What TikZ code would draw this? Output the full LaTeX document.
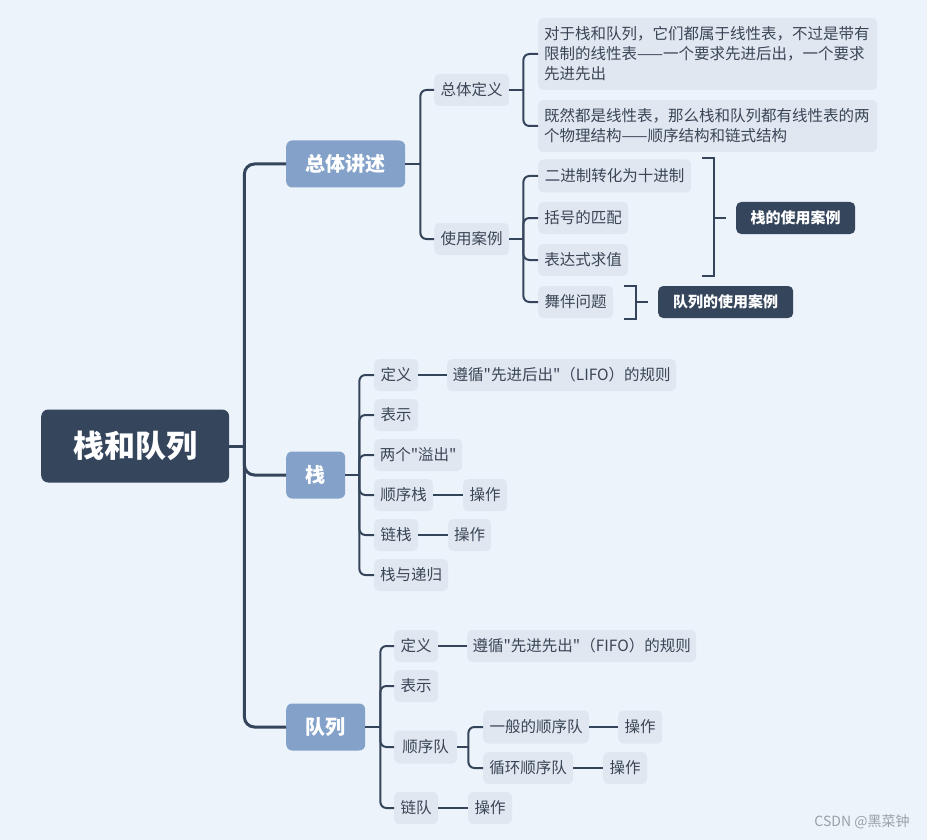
\documentclass[tikz,border=0pt]{standalone}
\usepackage{fontspec}
\setmainfont{Noto Sans CJK SC}
\newfontfamily\cjk{Noto Sans CJK SC}
\usetikzlibrary{calc}
\definecolor{bg}{HTML}{ECF3FA}
\definecolor{leafc}{HTML}{E0E7F0}
\definecolor{midc}{HTML}{84A2C9}
\definecolor{darkc}{HTML}{34455C}
\definecolor{linec}{HTML}{34445B}
\definecolor{txt}{HTML}{3A4556}
\definecolor{wmc}{HTML}{9AA0A8}
\begin{document}
\begin{tikzpicture}[x=1pt,y=-1pt,
  leaf/.style={fill=leafc, rounded corners=5pt, text=txt, font=\cjk\fontsize{15.5}{20}\selectfont, minimum height=32pt, inner sep=0pt, anchor=west},
  para/.style={leaf, align=left, text width=327pt, minimum width=339pt},
  midbox/.style={fill=midc, rounded corners=6pt, text=white, font=\cjk\fontsize{20}{20}\selectfont\bfseries, minimum height=47pt, inner sep=0pt, anchor=west},
  rootbox/.style={fill=darkc, rounded corners=7pt, text=white, font=\cjk\fontsize{31}{31}\selectfont\bfseries, minimum height=73pt, minimum width=188pt, inner sep=0pt, anchor=west},
  tagbox/.style={fill=darkc, rounded corners=5pt, text=white, font=\cjk\fontsize{15}{15}\selectfont\bfseries, minimum height=32pt, inner sep=0pt, anchor=west},
  conn/.style={draw=linec, line width=2pt, rounded corners=6pt},
  mainconn/.style={draw=linec, line width=3pt, rounded corners=10pt},
  brk/.style={draw=linec, line width=2pt}
]
\fill[bg] (0,0) rectangle (927,840);
\useasboundingbox (0,0) rectangle (927,840);

% root and level 1
\node[rootbox] (root) at (41,446) {栈和队列};
\node[midbox, minimum width=119pt] (zt) at (286,164) {总体讲述};
\node[midbox, minimum width=59pt] (zhan) at (286,475) {栈};
\node[midbox, minimum width=79pt] (dl) at (286,727) {队列};

\coordinate (j0) at ($(root.east)+(15,0)$);
\draw[mainconn] (root.east) -- (j0);
\draw[mainconn] (j0) |- (zt.west);
\draw[mainconn] (j0) |- (zhan.west);
\draw[mainconn] (j0) |- (dl.west);

% 总体讲述 branch
\node[leaf, minimum width=75pt] (ztdy) at (434,90) {总体定义};
\node[leaf, minimum width=75pt] (syal) at (434,239) {使用案例};
\coordinate (j1) at ($(zt.east)+(15,0)$);
\draw[conn] (zt.east) -- (j1);
\draw[conn] (j1) |- (ztdy.west);
\draw[conn] (j1) |- (syal.west);

\node[para, minimum height=72pt] (p1) at (538,54) {对于栈和队列，它们都属于线性表，不过是带有\\限制的线性表——一个要求先进后出，一个要求\\先进先出};
\node[para, minimum height=52pt] (p2) at (538,126) {既然都是线性表，那么栈和队列都有线性表的两\\个物理结构——顺序结构和链式结构};
\coordinate (j2) at ($(ztdy.east)+(14,0)$);
\draw[conn] (ztdy.east) -- (j2);
\draw[conn] (j2) |- (p1.west);
\draw[conn] (j2) |- (p2.west);

\node[leaf, minimum width=153pt, minimum height=33pt] (c1) at (538,176) {二进制转化为十进制};
\node[leaf, minimum width=90pt] (c2) at (538,218) {括号的匹配};
\node[leaf, minimum width=90pt] (c3) at (538,260) {表达式求值};
\node[leaf, minimum width=75pt] (c4) at (538,302) {舞伴问题};
\coordinate (j3) at ($(syal.east)+(14,0)$);
\draw[conn] (syal.east) -- (j3);
\draw[conn] (j3) |- (c1.west);
\draw[conn] (j3) |- (c2.west);
\draw[conn] (j3) |- (c3.west);
\draw[conn] (j3) |- (c4.west);

\node[tagbox, minimum width=119pt] (sk) at (736,218) {栈的使用案例};
\node[tagbox, minimum width=135pt] (qk) at (658,302) {队列的使用案例};
\coordinate (b1a) at (702,158);
\coordinate (b1b) at (714,158);
\coordinate (b1c) at (714,276);
\coordinate (b1d) at (702,276);
\draw[brk] (b1a) -- (b1b) -- (b1c) -- (b1d);
\draw[brk] (b1b |- sk.west) -- ([xshift=-10pt]sk.west);
\coordinate (b2a) at (624,286);
\coordinate (b2b) at (636,286);
\coordinate (b2c) at (636,319);
\coordinate (b2d) at (624,319);
\draw[brk] (b2a) -- (b2b) -- (b2c) -- (b2d);
\draw[brk] (b2b |- qk.west) -- ([xshift=-10pt]qk.west);

% 栈 branch
\node[leaf, minimum width=44pt] (s1) at (374,375) {定义};
\node[leaf, minimum width=44pt] (s2) at (374,415) {表示};
\node[leaf, minimum width=88pt] (s3) at (374,455) {两个"溢出"};
\node[leaf, minimum width=59pt] (s4) at (374,495) {顺序栈};
\node[leaf, minimum width=44pt] (s5) at (374,535) {链栈};
\node[leaf, minimum width=74pt] (s6) at (374,575) {栈与递归};
\coordinate (j4) at ($(zhan.east)+(14,0)$);
\draw[conn] (zhan.east) -- (j4);
\foreach \n in {s1,s2,s3,s4,s5,s6} \draw[conn] (j4) |- (\n.west);
\node[leaf, minimum width=229pt] (s1a) at (447,375) {遵循"先进后出"（LIFO）的规则};
\node[leaf, minimum width=44pt] (s4a) at (463,495) {操作};
\node[leaf, minimum width=43pt] (s5a) at (448,535) {操作};
\draw[conn] (s1.east) -- (s1a.west);
\draw[conn] (s4.east) -- (s4a.west);
\draw[conn] (s5.east) -- (s5a.west);

% 队列 branch
\node[leaf, minimum width=44pt] (q1) at (394,646) {定义};
\node[leaf, minimum width=44pt] (q2) at (394,686) {表示};
\node[leaf, minimum width=63pt, minimum height=33pt] (q3) at (394,747) {顺序队};
\node[leaf, minimum width=44pt] (q4) at (394,808) {链队};
\coordinate (j5) at ($(dl.east)+(15,0)$);
\draw[conn] (dl.east) -- (j5);
\foreach \n in {q1,q2,q3,q4} \draw[conn] (j5) |- (\n.west);
\node[leaf, minimum width=229pt] (q1a) at (467,646) {遵循"先进先出"（FIFO）的规则};
\draw[conn] (q1.east) -- (q1a.west);
\node[leaf, minimum width=106pt, minimum height=33pt] (q3a) at (483,727) {一般的顺序队};
\node[leaf, minimum width=90pt] (q3b) at (483,768) {循环顺序队};
\coordinate (j6) at ($(q3.east)+(11,0)$);
\draw[conn] (q3.east) -- (j6);
\draw[conn] (j6) |- (q3a.west);
\draw[conn] (j6) |- (q3b.west);
\node[leaf, minimum width=44pt, minimum height=33pt] (q3aa) at (618,727) {操作};
\node[leaf, minimum width=44pt] (q3ba) at (603,768) {操作};
\draw[conn] (q3a.east) -- (q3aa.west);
\draw[conn] (q3b.east) -- (q3ba.west);
\node[leaf, minimum width=44pt] (q4a) at (468,808) {操作};
\draw[conn] (q4.east) -- (q4a.west);

% watermark
\node[text=wmc, font=\cjk\fontsize{14}{14}\selectfont, inner sep=0pt] (wm) at (862,822) {CSDN @黑菜钟};
\end{tikzpicture}
\end{document}
